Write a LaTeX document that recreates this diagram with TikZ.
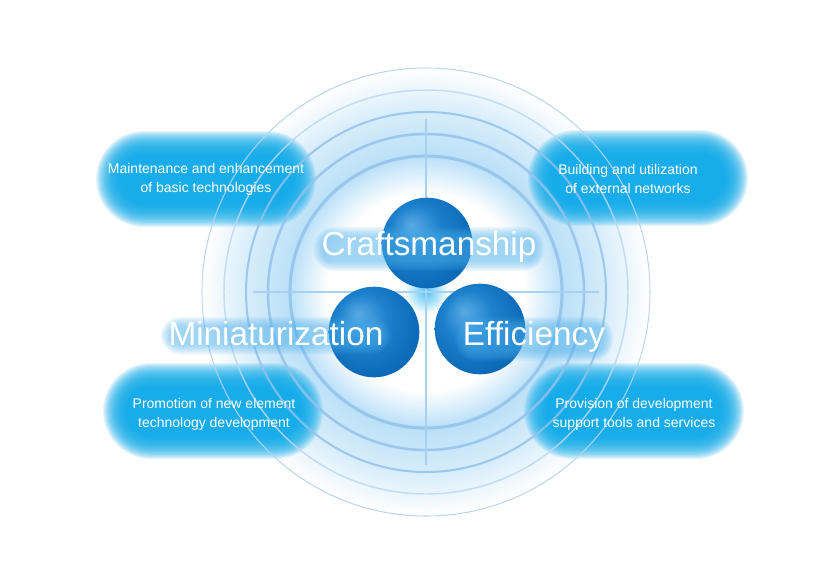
\documentclass[tikz,border=0pt]{standalone}
\usepackage{fontspec}
\setmainfont{Liberation Sans}
\usetikzlibrary{positioning}

\definecolor{blobcyan}{RGB}{14,172,234}
\definecolor{ringline}{RGB}{146,194,236}
\definecolor{ringpale}{RGB}{188,216,242}
\definecolor{crossline}{RGB}{168,208,240}
\definecolor{ringfillA}{RGB}{186,224,248}
\definecolor{ringfillB}{RGB}{214,236,250}
\definecolor{centreglow}{RGB}{80,196,242}
\definecolor{glowblue}{RGB}{80,180,240}
\definecolor{sphlight}{RGB}{88,170,228}
\definecolor{sphmid}{RGB}{28,128,204}
\definecolor{sphdark}{RGB}{6,98,176}

% shadings for the rings and the three spheres
\pgfdeclareradialshading{ringshade}{\pgfpoint{0bp}{0bp}}{color(0bp)=(centreglow); color(2.5bp)=(white); color(11bp)=(white); color(15.2bp)=(ringfillA); color(20bp)=(ringfillB); color(25bp)=(white); color(50bp)=(white)}
\pgfdeclareradialshading{sphereshade}{\pgfpoint{-9bp}{10bp}}{color(0bp)=(sphlight); color(14bp)=(sphmid); color(34bp)=(sphdark); color(50bp)=(sphdark)}

\pgfdeclarelayer{haze}
\pgfdeclarelayer{front}
\pgfsetlayers{main,haze,front}

\begin{document}
\begin{tikzpicture}[
  x=0.75pt, y=-0.75pt,
  ringfill/.style={shading=ringshade},
  blobtext/.style={text=white, align=center, inner sep=0pt, font=\fontsize{10.5}{14.25}\selectfont},
  biglabel/.style={text=white, anchor=base, inner sep=0pt, font=\fontsize{25}{28}\selectfont},
  sphere/.style={circle, minimum size=68pt, inner sep=0pt, shading=sphereshade}
]
\useasboundingbox (0,0) rectangle (840,587);
\fill[white] (0,0) rectangle (840,587);

\coordinate (ctr) at (426,292);
\fill[ringfill] (ctr) circle (224);

% soft cyan blobs behind the four texts
\foreach \cx/\cy in {206/179, 638/178, 213/411, 634/411}{
  \foreach \k in {0,...,23}{
    \pgfmathsetmacro\pad{14-\k*1.05}
    \pgfmathsetmacro\hw{96+\pad}
    \pgfmathsetmacro\hh{34+\pad}
    \fill[blobcyan, opacity=0.11, rounded corners=\hh*0.75pt]
      (\cx-\hw,\cy-\hh) rectangle (\cx+\hw,\cy+\hh);
  }
}

% rings
\foreach \r/\w/\c in {136/2.3pt/ringline, 158/1.9pt/ringline, 180/1.5pt/ringline, 202/1.1pt/ringpale, 224/0.8pt/ringpale}
  \draw[draw=\c, line width=\w, opacity=0.85] (ctr) circle (\r);

\draw[crossline, line width=0.8pt] ([yshift=130pt]ctr) -- ([yshift=-130pt]ctr);
\draw[crossline, line width=0.8pt] ([xshift=-130pt]ctr) -- ([xshift=130pt]ctr);

% spheres
\node[sphere] (craft) at (427,243) {};
\node[sphere] (mini) at (374,332) {};
\node[sphere] (effi) at (480,329) {};

% labels, with a soft haze behind them
\begin{pgfonlayer}{front}
\node[biglabel] (craftlbl) at (429,255) {Craftsmanship};
\node[biglabel] (minilbl) at (276,345) {Miniaturization};
\node[biglabel] (effilbl) at (534,345) {Efficiency};
\end{pgfonlayer}
\begin{pgfonlayer}{haze}
\foreach \lbl in {craftlbl, minilbl, effilbl}{
  \foreach \k in {0,...,9}{
    \pgfmathsetmacro\pad{7-\k*1.1}
    \fill[glowblue, opacity=0.07, rounded corners=(\pad+9)*1pt]
      ([shift={(-\pad-1,\pad+2)}]\lbl.south west) rectangle ([shift={(\pad+1,-\pad+3)}]\lbl.north east);
  }
}
\end{pgfonlayer}

\node[blobtext] (basic) at (206,179) {Maintenance and enhancement\\of basic technologies};
\node[blobtext] (networks) at (628,179) {Building and utilization\\of external networks};
\node[blobtext] (element) at (214,414) {Promotion of new element\\technology development};
\node[blobtext] (tools) at (634,414) {Provision of development\\support tools and services};
\end{tikzpicture}
\end{document}
